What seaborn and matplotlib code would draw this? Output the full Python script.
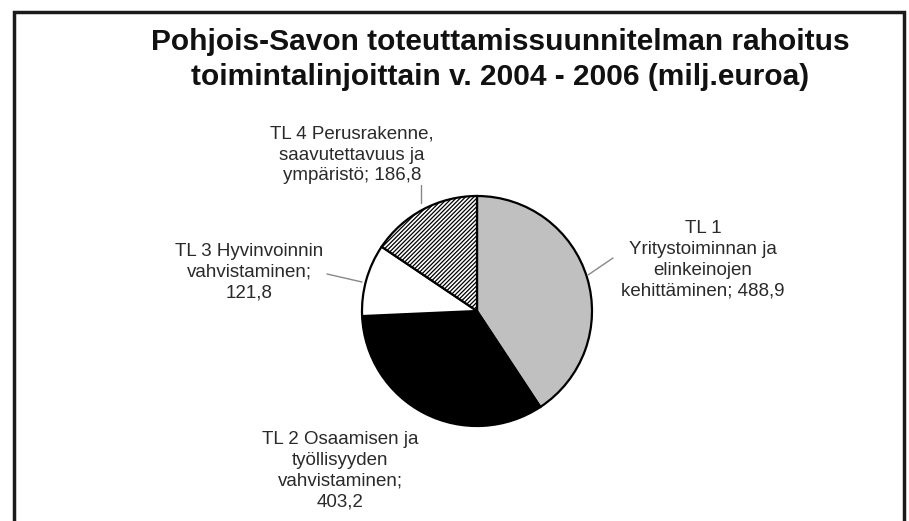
import matplotlib
matplotlib.use("Agg")
import matplotlib.pyplot as plt
import seaborn as sns

sns.set_theme(style="white")
plt.rcParams['font.family'] = ['Liberation Sans', 'DejaVu Sans']
plt.rcParams['hatch.linewidth'] = 0.9

# Data
title_lines = ["Pohjois-Savon toteuttamissuunnitelman rahoitus",
               "toimintalinjoittain v. 2004 - 2006 (milj.euroa)"]
labels = [
    "TL 1\nYritystoiminnan ja\nelinkeinojen\nkehittäminen; 488,9",
    "TL 2 Osaamisen ja\ntyöllisyyden\nvahvistaminen;\n403,2",
    "TL 3 Hyvinvoinnin\nvahvistaminen;\n121,8",
    "TL 4 Perusrakenne,\nsaavutettavuus ja\nympäristö; 186,8",
]
values = [488.9, 403.2, 121.8, 186.8]
colors = ["#c0c0c0", "#000000", "#ffffff", "#ffffff"]
hatches = [None, None, None, "////////"]

W, H = 909, 521
fig = plt.figure(figsize=(W / 100, H / 100), dpi=100)
ax = fig.add_axes([0, 0, 1, 1])

# pie
cx, cy, r = 477, H - 311, 115
wedges, _ = ax.pie(values, center=(cx, cy), radius=r, startangle=90, counterclock=False,
                   colors=colors, wedgeprops=dict(edgecolor="black", linewidth=1.6),
                   frame=True)
for w, h in zip(wedges, hatches):
    if h:
        w.set_hatch(h)
ax.set_xlim(0, W)
ax.set_ylim(0, H)
ax.set_aspect("equal")
ax.axis("off")

# frame (top, left, right; bottom cut off)
ax.plot([14, 14, 904, 904], [-5, H - 12, H - 12, -5], color="#1a1a1a", lw=2.5,
        solid_joinstyle="miter")

# title
for line, yb in zip(title_lines, [50, 85]):
    ax.text(500, H - yb, line, ha="center", va="baseline", fontsize=21.5,
            fontweight="bold", color="#111111")

# labels (image-pixel layout positions)
label_pos = [(703, 260), (340, 471), (249, 272), (352, 155)]
for lab, (x, y) in zip(labels, label_pos):
    ax.text(x, H - y, lab, ha="center", va="center", fontsize=13.5, linespacing=1.3,
            color="#2a2a2a")

# leader lines
leaders = [((613, 258), (588, 275)), ((327, 274), (362, 282)), ((421, 185), (421, 203))]
for (x0, y0), (x1, y1) in leaders:
    ax.plot([x0, x1], [H - y0, H - y1], color="#888888", lw=1)

fig.savefig("out.png", dpi=100, facecolor="white")
